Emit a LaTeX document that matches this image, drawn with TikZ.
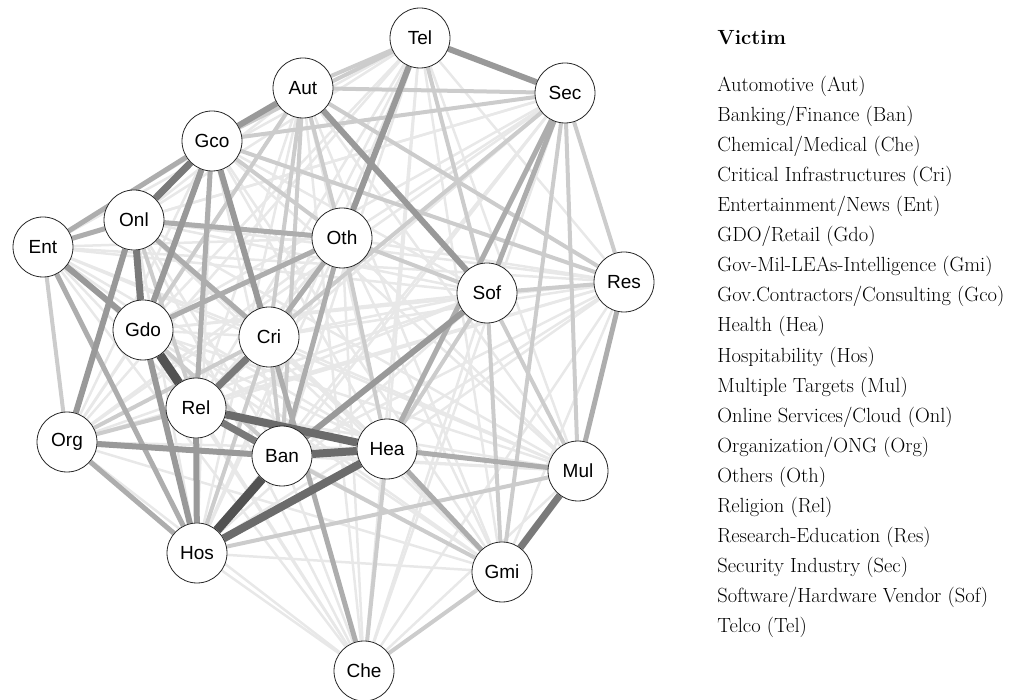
\documentclass[tikz,border=0pt]{standalone}
\usepackage{fontspec}
\newfontfamily\nodefont{Liberation Sans}
\usetikzlibrary{backgrounds}

\begin{document}
\begin{tikzpicture}[x=1pt,y=-1pt,
every node/.style={circle,draw=black!85,line width=0.8pt,fill=white,minimum size=60pt,inner sep=0pt,font=\nodefont\fontsize{19}{22}\selectfont},
legend/.style={rectangle,draw=none,fill=none,minimum size=0pt,anchor=west,font=\fontsize{20.5}{24}\selectfont},
faint/.style={black!9,line width=2.5pt},
light/.style={black!20,line width=4pt},
soft/.style={black!32,line width=5pt},
mid/.style={black!40,line width=6pt},
dark/.style={black!52,line width=7pt},
strong/.style={black!58,line width=8pt},
heavy/.style={black!68,line width=9pt}]
\useasboundingbox (0,0) rectangle (1018,700);

% victims
\node (Tel) at (420,38) {Tel};
\node (Sec) at (565,93) {Sec};
\node (Aut) at (303,88) {Aut};
\node (Gco) at (212,141) {Gco};
\node (Onl) at (134,220) {Onl};
\node (Ent) at (43,247) {Ent};
\node (Oth) at (342,238) {Oth};
\node (Sof) at (487,293) {Sof};
\node (Res) at (624,282) {Res};
\node (Gdo) at (143,330) {Gdo};
\node (Cri) at (269,337) {Cri};
\node (Rel) at (196,408) {Rel};
\node (Org) at (67,442) {Org};
\node (Ban) at (282,456) {Ban};
\node (Hea) at (387,449) {Hea};
\node (Mul) at (578,471) {Mul};
\node (Hos) at (197,553) {Hos};
\node (Gmi) at (502,572) {Gmi};
\node (Che) at (364,671) {Che};

% links, lightest first
\begin{scope}[on background layer]
\foreach \a [count=\i] in {Tel,Sec,Aut,Gco,Onl,Ent,Oth,Sof,Res,Gdo,Cri,Rel,Org,Ban,Hea,Mul,Hos,Gmi,Che}
  \foreach \b [count=\j] in {Tel,Sec,Aut,Gco,Onl,Ent,Oth,Sof,Res,Gdo,Cri,Rel,Org,Ban,Hea,Mul,Hos,Gmi,Che}
    {\ifnum\j>\i \draw[faint] (\a)--(\b); \fi}
\foreach \a/\b in {Sof/Mul,Sof/Gmi,Sof/Res,Sof/Hea,Che/Gmi,Aut/Oth,Aut/Tel,Ent/Org,Cri/Hos,Hos/Mul,
  Sof/Oth,Aut/Res,Oth/Hea,Sec/Cri,Sec/Gmi,Sec/Mul,Sec/Res,Tel/Sof,Org/Cri,Ban/Gmi,Hea/Che,
  Aut/Cri,Aut/Gdo,Gco/Oth,Onl/Rel,Org/Rel,Cri/Ban,Aut/Ban,Gdo/Ban,Tel/Gco,Gco/Res,Sec/Aut,Sec/Gco}
  \draw[light] (\a)--(\b);
\foreach \a/\b in {Ent/Onl,Onl/Oth,Onl/Cri,Gdo/Oth,Oth/Ban,Hea/Mul,Res/Mul,Sec/Sof,Sec/Hea,
  Gco/Rel,Cri/Che,Hea/Gmi,Ent/Gco,Org/Hos,Ent/Hos,Oth/Cri}
  \draw[soft] (\a)--(\b);
\foreach \a/\b in {Tel/Oth,Aut/Sof,Tel/Sec,Org/Onl,Gco/Gdo,Gco/Cri,Gdo/Hos,Rel/Hos,Org/Ban,
  Sof/Ban,Ent/Gdo,Gco/Aut}
  \draw[mid] (\a)--(\b);
\draw[dark] (Onl)--(Gdo) (Cri)--(Rel)--(Ban) (Gco)--(Onl) (Mul)--(Gmi);
\draw[strong] (Rel)--(Hea)--(Ban) (Hos)--(Hea);
\draw[heavy] (Gdo)--(Rel) (Ban)--(Hos);
\end{scope}

% legend
\node[legend,font=\bfseries\fontsize{20.5}{24}\selectfont] (Title) at (717,38) {Victim};
\foreach \txt [count=\k] in {Automotive (Aut),Banking/Finance (Ban),Chemical/Medical (Che),
  Critical Infrastructures (Cri),Entertainment/News (Ent),GDO/Retail (Gdo),
  Gov-Mil-LEAs-Intelligence (Gmi),Gov.Contractors/Consulting (Gco),Health (Hea),
  Hospitability (Hos),Multiple Targets (Mul),Online Services/Cloud (Onl),
  Organization/ONG (Org),Others (Oth),Religion (Rel),Research-Education (Res),
  Security Industry (Sec),Software/Hardware Vendor (Sof),Telco (Tel)}
  \node[legend] (L\k) at (717,{86+30.1*(\k-1)}) {\txt};
\end{tikzpicture}
\end{document}
